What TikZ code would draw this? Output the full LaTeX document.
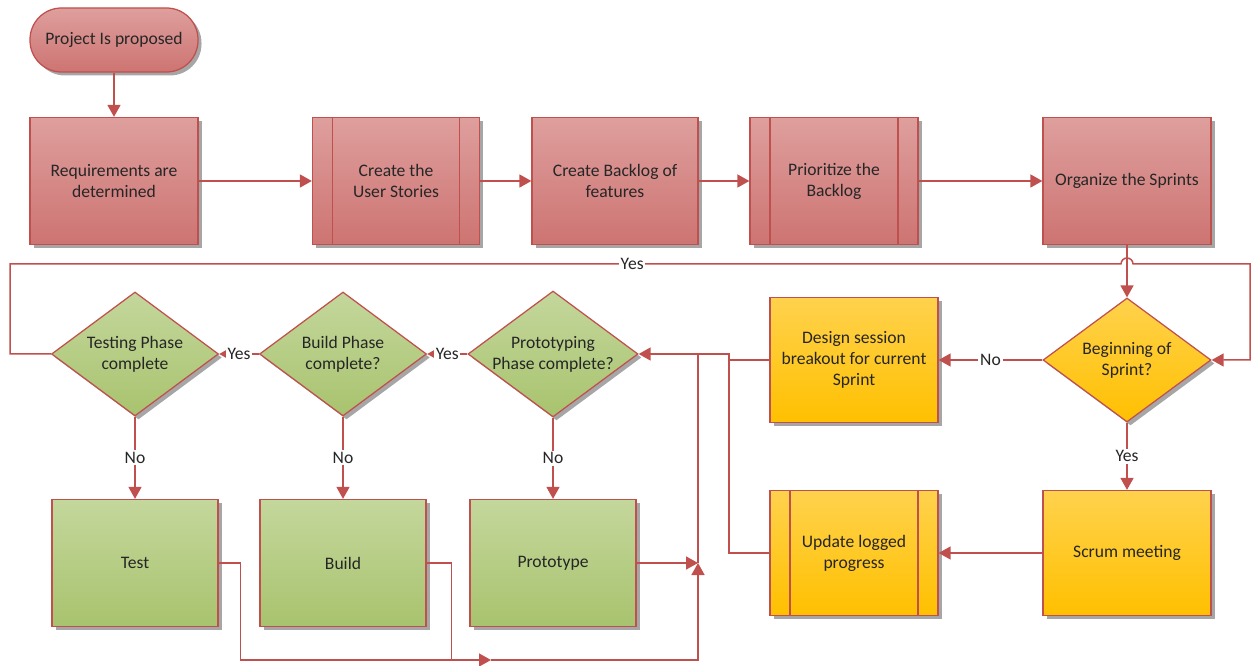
\documentclass[tikz,border=0pt]{standalone}
\usepackage{fontspec}
\setmainfont{Carlito}
\usetikzlibrary{arrows.meta,shapes.geometric,shadows}
\definecolor{linecol}{HTML}{C0504D}
\definecolor{redtop}{HTML}{DE9F9D}
\definecolor{redbot}{HTML}{CD7472}
\definecolor{greentop}{HTML}{C4D79C}
\definecolor{greenbot}{HTML}{A8C36E}
\definecolor{yellowtop}{HTML}{FFD24D}
\definecolor{yellowbot}{HTML}{FFC000}
\tikzstyle{base}=[draw=linecol,line width=0.25mm,text=black!85,align=center,
  font=\fontsize{10}{12}\selectfont,
  drop shadow={shadow xshift=0.7mm,shadow yshift=-0.7mm,fill=black!35,opacity=1}]
\tikzstyle{box}=[base,rectangle,minimum width=3.36cm,minimum height=2.54cm]
\tikzstyle{decision}=[base,diamond,aspect=1.35,inner sep=0pt,
  minimum width=3.34cm,minimum height=2.48cm]
\tikzstyle{redfill}=[top color=redtop,bottom color=redbot]
\tikzstyle{greenfill}=[top color=greentop,bottom color=greenbot]
\tikzstyle{yellowfill}=[top color=yellowtop,bottom color=yellowbot]
\tikzstyle{subproc}=[path picture={
  \draw[linecol,line width=0.25mm]
    ([xshift=4mm]path picture bounding box.north west) -- ([xshift=4mm]path picture bounding box.south west)
    ([xshift=-4mm]path picture bounding box.north east) -- ([xshift=-4mm]path picture bounding box.south east);}]
\tikzstyle{line}=[draw=linecol,line width=0.3mm]
\tikzstyle{conn}=[line,-{Triangle[length=2.4mm,width=2.6mm]}]
\tikzstyle{lbl}=[fill=white,inner sep=1pt,text=black!85,font=\fontsize{10}{12}\selectfont]

\begin{document}
\begin{tikzpicture}
  \useasboundingbox (0,0) rectangle (25.04,-13.32);
  % top row
  \node[base,redfill,rectangle,rounded corners=6.3mm,minimum width=3.36cm,minimum height=1.28cm]
    (start) at (2.28,-0.80) {Project Is proposed};
  \node[box,redfill] (req) at (2.28,-3.62) {Requirements are\\determined};
  \node[box,redfill,subproc,minimum width=3.34cm] (stories) at (7.92,-3.62) {Create the\\User Stories};
  \node[box,redfill,minimum width=3.32cm] (backlog) at (12.30,-3.62) {Create Backlog of\\features};
  \node[box,redfill,subproc] (prio) at (16.68,-3.62) {Prioritize the\\Backlog};
  \node[box,redfill] (organize) at (22.54,-3.62) {Organize the Sprints};
  % sprint loop
  \node[decision,yellowfill,minimum width=3.36cm] (begin) at (22.54,-7.20) {Beginning of\\Sprint?};
  \node[box,yellowfill,minimum height=2.5cm] (design) at (17.08,-7.20) {Design session\\breakout for current\\Sprint};
  \node[box,yellowfill,minimum height=2.5cm] (scrum) at (22.54,-11.06) {Scrum meeting};
  \node[box,yellowfill,subproc,minimum height=2.5cm] (update) at (17.08,-11.06) {Update logged\\progress};
  % phases
  \node[decision,greenfill] (protod) at (11.06,-7.08) {Prototyping\\Phase complete?};
  \node[decision,greenfill] (buildd) at (6.86,-7.08) {Build Phase\\complete?};
  \node[decision,greenfill] (testd) at (2.70,-7.08) {Testing Phase\\complete};
  \node[box,greenfill,minimum width=3.32cm] (protob) at (11.06,-11.26) {Prototype};
  \node[box,greenfill,minimum width=3.32cm] (buildb) at (6.86,-11.26) {Build};
  \node[box,greenfill,minimum width=3.32cm] (testb) at (2.70,-11.26) {Test};
  \coordinate (join) at (13.96,-11.26);

  \draw[conn] (start) -- (req);
  \draw[conn] (req) -- (stories);
  \draw[conn] (stories) -- (backlog);
  \draw[conn] (backlog) -- (prio);
  \draw[conn] (prio) -- (organize);
  \draw[conn] (organize) -- (begin);
  % Yes loop back round the top, hopping over the line above
  \draw[conn] (testd.west) -- (0.2,-7.08) |- node[lbl,pos=0.78] (yestop) {Yes} (22.42,-5.28)
    arc[start angle=180,end angle=0,radius=0.12] -- (25.0,-5.28) |- (begin.east);
  \draw[conn] (begin) -- node[lbl] (nobegin) {No} (design);
  \draw[conn] (begin) -- node[lbl] (yesbegin) {Yes} (scrum);
  \draw[conn] (scrum) -- (update);
  \draw[conn] (design.west) -- (14.58,-7.20) |- (protod.east);
  \draw[line] (update.west) -| (14.58,-7.20);
  \draw[conn] (protod) -- node[lbl] (yesproto) {Yes} (buildd);
  \draw[conn] (buildd) -- node[lbl] (yesbuild) {Yes} (testd);
  \draw[conn] (protod) -- node[lbl] (noproto) {No} (protob);
  \draw[conn] (buildd) -- node[lbl] (nobuild) {No} (buildb);
  \draw[conn] (testd) -- node[lbl] (notest) {No} (testb);
  % work feeds back to the prototyping check
  \draw[conn] (protob) -- (join);
  \draw[conn] (testb.east) -- ++(0.44,0) |- (9.82,-13.20);
  \draw[line] (buildb.east) -- ++(0.5,0) |- (9.2,-13.20);
  \draw[conn] (9.82,-13.20) -| (join);
  \draw[line] (join) -- (13.96,-7.08);
\end{tikzpicture}
\end{document}
